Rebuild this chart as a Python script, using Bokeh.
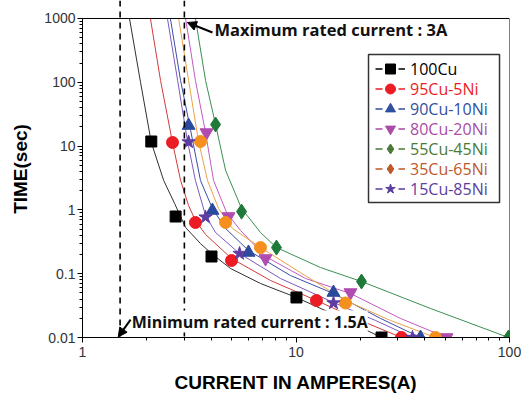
from bokeh.plotting import figure
from bokeh.models import (Range1d, Span, Arrow, NormalHead, Label, Legend, LegendItem,
                          BoxAnnotation, PrintfTickFormatter, LogAxis, FixedTicker)
from bokeh.embed import file_html
from bokeh.resources import INLINE

# ---------------- data ----------------
names = ["100Cu", "95Cu-5Ni", "90Cu-10Ni", "80Cu-20Ni", "55Cu-45Ni", "35Cu-65Ni", "15Cu-85Ni"]

# measured points (current A, time s)
pts_100cu_x = [2.10, 2.73, 4.02, 10.05, 25.15]
pts_100cu_y = [11.8, 0.788, 0.186, 0.0424, 0.01]
pts_95cu_x = [2.64, 3.38, 4.99, 12.47, 31.20]
pts_95cu_y = [11.4, 0.635, 0.161, 0.038, 0.01]
pts_90cu_x = [3.14, 4.06, 5.99, 14.98, 38.3]
pts_90cu_y = [21.0, 0.978, 0.215, 0.0507, 0.01]
pts_80cu_x = [3.81, 4.83, 7.20, 18.00, 50.69]
pts_80cu_y = [16.3, 0.788, 0.173, 0.0507, 0.01]
pts_55cu_x = [4.20, 5.56, 8.10, 20.27, 98.9]
pts_55cu_y = [21.8, 0.94, 0.257, 0.0755, 0.01]
pts_35cu_x = [3.57, 4.68, 6.82, 17.06, 45.03]
pts_35cu_y = [11.8, 0.635, 0.257, 0.0347, 0.01]
pts_15cu_x = [3.14, 3.77, 5.44, 14.98, 35.13]
pts_15cu_y = [11.6, 0.77, 0.207, 0.0347, 0.01]

# fitted curves
fit_100cu_x = [1.66, 1.87, 2.10, 2.40, 2.70, 3.04, 3.57, 4.02, 4.93, 6.82, 10.05, 16.16, 25.15]
fit_100cu_y = [1000, 100, 11.4, 2.89, 1.26, 0.530, 0.297, 0.207, 0.121, 0.0702, 0.0424, 0.0206, 0.01]
fit_95cu_x = [2.08, 2.32, 2.64, 2.88, 3.14, 3.38, 3.77, 4.99, 7.60, 12.47, 20.05, 31.20]
fit_95cu_y = [1000, 106.7, 11.4, 2.89, 1.17, 0.682, 0.411, 0.173, 0.0782, 0.038, 0.0185, 0.01]
fit_90cu_x = [2.58, 2.88, 3.21, 3.57, 4.06, 4.68, 5.99, 9.42, 14.98, 24.88, 38.30]
fit_90cu_y = [1000, 106.7, 17.6, 2.89, 1.05, 0.511, 0.231, 0.0937, 0.0489, 0.0199, 0.01]
fit_80cu_x = [3.04, 3.38, 3.77, 4.11, 4.73, 5.50, 7.20, 11.08, 18.00, 30.86, 50.69]
fit_80cu_y = [1000, 106.7, 16.3, 2.89, 0.910, 0.475, 0.186, 0.0841, 0.0489, 0.0199, 0.01]
fit_55cu_x = [3.38, 3.77, 4.20, 4.68, 5.56, 6.82, 8.10, 13.02, 20.27, 42.66, 98.9]
fit_55cu_y = [1000, 106.7, 21.8, 4.15, 1.05, 0.442, 0.257, 0.125, 0.0755, 0.0285, 0.01]
fit_35cu_x = [2.82, 3.14, 3.49, 3.85, 4.34, 5.04, 6.82, 10.50, 17.06, 27.7, 45.03]
fit_35cu_y = [1000, 106.7, 12.2, 2.89, 1.05, 0.511, 0.257, 0.104, 0.038, 0.0185, 0.01]
fit_15cu_x = [2.50, 2.79, 3.10, 3.38, 3.77, 4.20, 5.44, 8.46, 14.98, 23.57, 35.13]
fit_15cu_y = [1000, 106.7, 12.2, 2.89, 0.817, 0.442, 0.207, 0.0841, 0.0354, 0.0185, 0.01]

min_rated_current = 1.5
max_rated_current = 3.0
x_min, x_max = 1, 100
y_min, y_max = 0.01, 1000

# ---------------- styles ----------------
pts_x = [pts_100cu_x, pts_95cu_x, pts_90cu_x, pts_80cu_x, pts_55cu_x, pts_35cu_x, pts_15cu_x]
pts_y = [pts_100cu_y, pts_95cu_y, pts_90cu_y, pts_80cu_y, pts_55cu_y, pts_35cu_y, pts_15cu_y]
fit_x = [fit_100cu_x, fit_95cu_x, fit_90cu_x, fit_80cu_x, fit_55cu_x, fit_35cu_x, fit_15cu_x]
fit_y = [fit_100cu_y, fit_95cu_y, fit_90cu_y, fit_80cu_y, fit_55cu_y, fit_35cu_y, fit_15cu_y]

marker_types = ["square", "circle", "triangle", "inverted_triangle", "diamond", "circle", "star"]
marker_sizes = [11, 12, 13, 13, 15, 12, 14]
marker_colors = ["#000000", "#ec1c24", "#2a4a9c", "#b04cb0", "#1f7a3a", "#f5901e", "#5e3ca0"]
line_colors = ["#303030", "#d23a3a", "#3c4ea8", "#c25ac2", "#3a9050", "#eaa24a", "#7a5ac0"]
legend_markers = ["square", "circle", "triangle", "inverted_triangle", "diamond", "diamond", "star"]
legend_colors = ["#000000", "#ec1c24", "#2f4f9f", "#a84ca8", "#4a7a35", "#c0582a", "#5a3d9e"]

FONT = "Liberation Sans"

# frame top sits above the 1000 s line so the dashed guides run past the box
p = figure(width=528, height=396, x_axis_type="log", y_axis_type="log",
           x_range=Range1d(x_min, x_max), y_range=Range1d(y_min, 1914.6),
           output_backend="svg", toolbar_location=None,
           min_border_left=82, min_border_right=19, min_border_top=0, min_border_bottom=59)
p.extra_x_ranges = {"legend_only": Range1d(1e6, 1e7)}
p.xgrid.visible = False
p.ygrid.visible = False
p.outline_line_color = None
p.background_fill_color = "white"
p.border_fill_color = "white"

for ax in (p.xaxis[0], p.yaxis[0]):
    ax.formatter = PrintfTickFormatter(format="%g")
    ax.axis_line_color = "black"
    ax.major_tick_line_color = "black"
    ax.minor_tick_line_color = "black"
    ax.major_tick_out = 5
    ax.major_tick_in = 0
    ax.minor_tick_out = 3
    ax.minor_tick_in = 0
    ax.major_label_text_font = FONT
    ax.major_label_text_font_size = "14px"
    ax.major_label_text_color = "#333333"
    ax.axis_label_text_font = FONT
    ax.axis_label_text_font_style = "bold"
    ax.axis_label_text_color = "black"
    ax.axis_label_text_font_size = "19px"

p.xaxis.axis_label = "CURRENT IN AMPERES(A)"
p.xaxis.major_label_standoff = 4
p.xaxis.axis_label_standoff = 12
p.yaxis.bounds = (y_min, y_max)
p.yaxis.axis_label = "TIME(sec)"
p.yaxis.major_label_standoff = 2
p.yaxis.axis_label_standoff = 10

# right and top borders of the plotting box
right_axis = LogAxis(fixed_location=x_max, bounds=(y_min, y_max), ticker=FixedTicker(ticks=[]),
                     axis_line_color="black", major_tick_out=0, minor_tick_out=0,
                     major_tick_in=0, minor_tick_in=0)
p.add_layout(right_axis, "right")
p.add_layout(Span(location=y_max, dimension="width", line_color="black", line_width=1))

# rated-current guides
for loc in (min_rated_current, max_rated_current):
    p.add_layout(Span(location=loc, dimension="height", line_color="black",
                      line_width=1.6, line_dash="6 5"))

# legend box (underlay so legend glyphs stay on top)
p.add_layout(BoxAnnotation(left=21.86, right=89.8, top=272.7, bottom=1.306,
                           fill_color="white", fill_alpha=1.0, level="underlay",
                           line_color="#333333", line_width=1.5, line_alpha=1.0))

# curves and points
for i in range(len(names)):
    p.line(fit_x[i], fit_y[i], line_color=line_colors[i], line_width=1)
for i in range(len(names)):
    p.scatter(pts_x[i], pts_y[i], marker=marker_types[i], size=marker_sizes[i],
              fill_color=marker_colors[i], line_color=marker_colors[i])

# annotations
p.add_layout(Arrow(end=NormalHead(size=9, fill_color="black", line_color="black"),
                   x_start=4.06, y_start=603, x_end=3.10, y_end=865,
                   line_color="black", line_width=2))
p.add_layout(Label(x=4.15, y=672, text="Maximum rated current : 3A",
                   text_font="Open Sans", text_font_style="bold", text_font_size="16.5px",
                   text_baseline="middle", text_align="left", text_color="#111111"))
p.add_layout(Label(x=1.70, y=0.0178, text="Minimum rated current : 1.5A",
                   text_font="Open Sans", text_font_style="bold", text_font_size="16px",
                   text_baseline="middle", text_align="left", text_color="#111111",
                   background_fill_color="white", background_fill_alpha=1.0))
p.add_layout(Arrow(end=NormalHead(size=9, fill_color="black", line_color="black"),
                   x_start=1.68, y_start=0.0191, x_end=1.47, y_end=0.0102,
                   line_color="black", line_width=2))

# legend: one small legend per series so each label keeps its series colour;
# the legend glyphs come from copies of the series drawn on an off-screen range
for i, nm in enumerate(names):
    lr = p.line(fit_x[i], fit_y[i], x_range_name="legend_only",
                line_color=legend_colors[i], line_width=1.5, line_dash="7 16 7")
    mr = p.scatter(pts_x[i], pts_y[i], x_range_name="legend_only",
                   marker=legend_markers[i], size=10,
                   fill_color=legend_colors[i], line_color=legend_colors[i])
    yc = 68 + 20 * i
    leg = Legend(items=[LegendItem(label=nm, renderers=[lr, mr])],
                 location=(293, int(round(337 - (yc + 12.5)))),
                 border_line_color=None, background_fill_alpha=0.0,
                 padding=0, margin=0, spacing=0,
                 glyph_width=30, glyph_height=25, label_height=16, label_standoff=5,
                 label_text_font="Open Sans", label_text_font_size="16px",
                 label_text_color=legend_colors[i])
    p.add_layout(leg)

open("out.html", "w").write(file_html(p, INLINE))
